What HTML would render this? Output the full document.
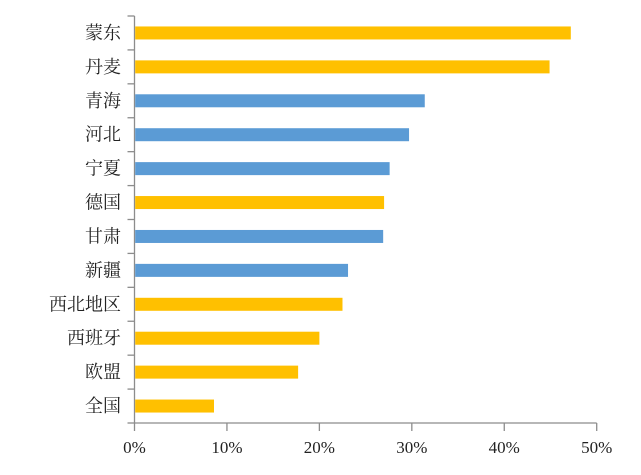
<!DOCTYPE html>
<html><head><meta charset="utf-8"><style>
body{margin:0;background:#fff;width:641px;height:470px;overflow:hidden}
text{font-family:"Liberation Serif","Noto Serif CJK SC",serif;fill:#222}
</style></head><body>
<svg id="chart" width="641" height="470" xmlns="http://www.w3.org/2000/svg"></svg>
<script>
const categories=["蒙东","丹麦","青海","河北","宁夏","德国","甘肃","新疆","西北地区","西班牙","欧盟","全国"];
const values=[47.2,44.9,31.4,29.7,27.6,27.0,26.9,23.1,22.5,20.0,17.7,8.6];
const seriesGroup=["g","g","b","b","b","g","b","b","g","g","g","g"];
const ticks=[0,10,20,30,40,50];
const tickLabels=["0%","10%","20%","30%","40%","50%"];
const colors={g:"#FFC000",b:"#5B9BD5"};
const svg=document.getElementById('chart');
const NS="http://www.w3.org/2000/svg";
const x0=134.5,x1=596.7,yTop=16,yBot=423;
const band=(yBot-yTop)/categories.length;
const xs=v=>x0+(v/50)*(x1-x0);
function mk(t,a,p){const e=document.createElementNS(NS,t);for(const k in a)e.setAttribute(k,a[k]);(p||svg).appendChild(e);return e;}
const axisColor="#8c8c8c";
const ax=mk('g',{});


mk('line',{x1:x0,y1:yTop,x2:x0,y2:yBot,stroke:axisColor,'stroke-width':1.3},ax);
mk('line',{x1:x0,y1:yBot,x2:x1,y2:yBot,stroke:axisColor,'stroke-width':1.3},ax);
for(let i=0;i<=categories.length;i++){const y=yTop+i*band;mk('line',{x1:x0-7,y1:y,x2:x0,y2:y,stroke:axisColor,'stroke-width':1.3},ax);}
ticks.forEach((t,i)=>{const x=xs(t);mk('line',{x1:x,y1:yBot,x2:x,y2:yBot+8,stroke:axisColor,'stroke-width':1.3},ax);
const tx=mk('text',{x:x,y:453,'text-anchor':'middle','font-size':17});tx.textContent=tickLabels[i];

});
categories.forEach((c,i)=>{const cy=yTop+band*(i+0.5);
const r=mk('rect',{x:x0+0.7,y:cy-6.5,width:xs(values[i])-x0-0.7,height:13,fill:colors[seriesGroup[i]]});


const t=mk('text',{x:121,y:cy+6,'text-anchor':'end','font-size':18});t.textContent=c;

});
</script>
</body></html>
